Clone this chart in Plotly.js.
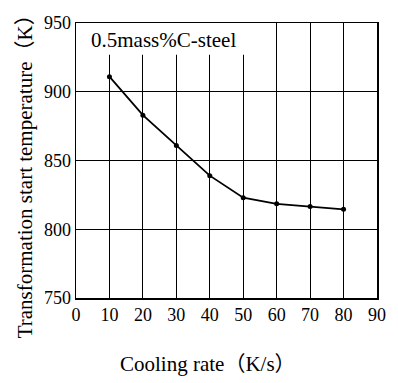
<!DOCTYPE html>
<html>
<head>
<meta charset="utf-8">
<script src="https://cdn.plot.ly/plotly-3.0.1.min.js"></script>
<style>html,body{margin:0;padding:0;background:#fff;}#chart{width:398px;height:383px;}</style>
</head>
<body>
<div id="chart"></div>
<script>
var coolingRate = [10, 20, 30, 40, 50, 60, 70, 80];
var startTemp = [911, 883, 861, 839, 823, 818.5, 816.5, 814.5];
var xTicks = [0, 10, 20, 30, 40, 50, 60, 70, 80, 90];
var yTicks = [750, 800, 850, 900, 950];
var labelText = "0.5mass%C-steel";
var xTitle = "Cooling rate\uFF08K/s\uFF09";
var yTitle = "Transformation start temperature\uFF08K\uFF09";

var font = "Liberation Serif, Noto Sans CJK JP, serif";
var trace = {
  x: coolingRate, y: startTemp, type: "scatter", mode: "lines+markers",
  line: {color: "#000", width: 1.8},
  marker: {color: "#000", size: 5},
  hoverinfo: "skip"
};
var layout = {
  width: 398, height: 383,
  margin: {l: 76, r: 21, t: 23, b: 85},
  paper_bgcolor: "#fff", plot_bgcolor: "#fff",
  showlegend: false,
  font: {family: font, color: "#000", size: 18},
  xaxis: {
    range: [0, 90], tickvals: xTicks, ticktext: xTicks.map(String),
    showgrid: true, gridcolor: "#000", gridwidth: 1,
    showline: true, linecolor: "#000", linewidth: 1.5, mirror: true,
    zeroline: false, ticks: "", ticklen: 0,
    tickfont: {family: font, size: 18}
  },
  yaxis: {
    range: [750, 950], tickvals: yTicks, ticktext: yTicks.map(String),
    showgrid: true, gridcolor: "#000", gridwidth: 1,
    showline: true, linecolor: "#000", linewidth: 1.5, mirror: true,
    zeroline: false, ticks: "", ticklen: 0,
    tickfont: {family: font, size: 18}
  },
  shapes: [{
    type: "rect", xref: "x", yref: "y", x0: 0, x1: 53.5, y0: 927, y1: 950,
    fillcolor: "#fff", line: {width: 0}, layer: "between"
  }],
  annotations: [{
    text: labelText, xref: "x", yref: "y", x: 3.8, y: 937.5,
    xanchor: "left", yanchor: "middle", showarrow: false,
    font: {family: font, size: 21, color: "#000"}
  }, {
    text: xTitle, xref: "paper", yref: "paper", x: 0.44, y: -0.24,
    xanchor: "center", yanchor: "middle", showarrow: false,
    font: {family: font, size: 21, color: "#000"}
  }, {
    text: yTitle, xref: "paper", yref: "paper", x: -0.17, y: 0.46,
    xanchor: "center", yanchor: "middle", showarrow: false, textangle: -90,
    font: {family: font, size: 21, color: "#000"}
  }]
};
Plotly.newPlot("chart", [trace], layout, {staticPlot: true, displayModeBar: false});
</script>
</body>
</html>
